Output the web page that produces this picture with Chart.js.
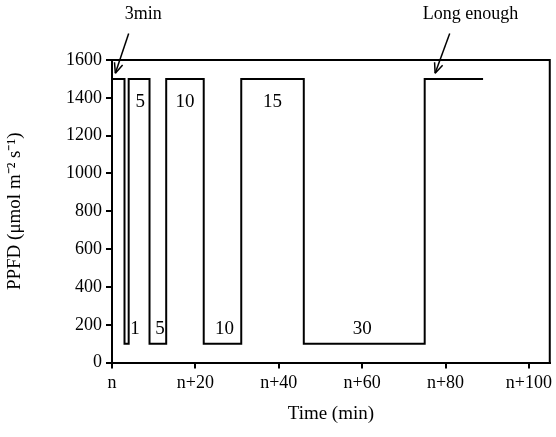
<!DOCTYPE html>
<html><head><meta charset="utf-8">
<script src="https://cdn.jsdelivr.net/npm/chart.js@4"></script>
<style>body{margin:0;background:#fff}#wrap{width:556px;height:437px}</style>
</head><body><div id="wrap"><canvas id="c"></canvas></div>
<script>
const switchTimes = [0, 3, 4, 9, 13, 22, 31, 46, 75, 89];
const levels = [1500, 100, 1500, 100, 1500, 100, 1500, 100, 1500];
const xTickLabels = ['n', 'n+20', 'n+40', 'n+60', 'n+80', 'n+100'];
const durationLabels = [
  { text: '1', x: 5.5, y: 180 }, { text: '5', x: 11.5, y: 180 },
  { text: '10', x: 27, y: 180 }, { text: '30', x: 60, y: 180 },
  { text: '5', x: 6.8, y: 1380 }, { text: '10', x: 17.5, y: 1380 },
  { text: '15', x: 38.5, y: 1380 }
];
const arrows = [
  { text: '3min', tx: 7.5, ty: 1840, x0: 4, y0: 1740, x1: 0.8, y1: 1530 },
  { text: 'Long enough', tx: 86, ty: 1840, x0: 81, y0: 1740, x1: 77.5, y1: 1530 }
];

const pts = [];
for (let i = 0; i < levels.length; i++) {
  pts.push({ x: switchTimes[i], y: levels[i] });
  pts.push({ x: switchTimes[i + 1], y: levels[i] });
}

const font = "'Liberation Serif', serif";
const extras = {
  id: 'extras',
  afterDraw(chart) {
    const { ctx, chartArea: a, scales: { x, y } } = chart;
    ctx.save();
    ctx.strokeStyle = '#000'; ctx.lineWidth = 2;
    ctx.beginPath();
    ctx.moveTo(a.left, a.top); ctx.lineTo(a.right, a.top); ctx.lineTo(a.right, a.bottom);
    ctx.stroke();
    ctx.fillStyle = '#000'; ctx.font = '19px ' + font;
    ctx.textAlign = 'center'; ctx.textBaseline = 'middle';
    durationLabels.forEach(l => ctx.fillText(l.text, x.getPixelForValue(l.x), y.getPixelForValue(l.y)));
    ctx.font = '18px ' + font;
    arrows.forEach(ar => {
      ctx.fillText(ar.text, x.getPixelForValue(ar.tx), y.getPixelForValue(ar.ty));
      const px0 = x.getPixelForValue(ar.x0), py0 = y.getPixelForValue(ar.y0);
      const px1 = x.getPixelForValue(ar.x1), py1 = y.getPixelForValue(ar.y1);
      ctx.lineWidth = 1.5;
      ctx.beginPath(); ctx.moveTo(px0, py0); ctx.lineTo(px1, py1); ctx.stroke();
      const ang = Math.atan2(py1 - py0, px1 - px0);
      ctx.beginPath();
      [-0.4, 0.4].forEach(d => {
        ctx.moveTo(px1, py1);
        ctx.lineTo(px1 - 11 * Math.cos(ang + d), py1 - 11 * Math.sin(ang + d));
      });
      ctx.stroke();
    });
    ctx.restore();
  }
};

const tickGrid = { drawOnChartArea: false, drawTicks: true, tickLength: 6, color: '#000', lineWidth: 2 };

new Chart(document.getElementById('c'), {
  type: 'line',
  data: { datasets: [{ data: pts, borderColor: '#000', borderWidth: 2, pointRadius: 0, tension: 0 }] },
  options: {
    responsive: true, maintainAspectRatio: false, animation: false,
    layout: { padding: { top: 60, right: 0, left: 0, bottom: 12 } },
    plugins: { legend: { display: false }, tooltip: { enabled: false } },
    scales: {
      x: {
        type: 'linear', min: 0, max: 105,
        afterBuildTicks: s => { s.ticks = xTickLabels.map((_, i) => ({ value: i * 20 })); },
        ticks: { color: '#000', font: { family: font, size: 18 }, maxRotation: 0, padding: 4,
          callback: (v) => xTickLabels[v / 20] },
        grid: tickGrid,
        border: { color: '#000', width: 2 },
        title: { display: true, text: 'Time (min)', color: '#000', font: { family: font, size: 19 }, padding: { top: 4, bottom: 0 } }
      },
      y: {
        min: 0, max: 1600,
        afterFit: s => { s.width = 112; },
        ticks: { stepSize: 200, color: '#000', font: { family: font, size: 18 }, padding: 4,
          callback: v => String(v) },
        grid: tickGrid,
        border: { color: '#000', width: 2 },
        title: { display: true, text: 'PPFD (μmol m⁻² s⁻¹)', color: '#000', font: { family: font, size: 19 } }
      }
    }
  },
  plugins: [extras]
});
</script></body></html>
